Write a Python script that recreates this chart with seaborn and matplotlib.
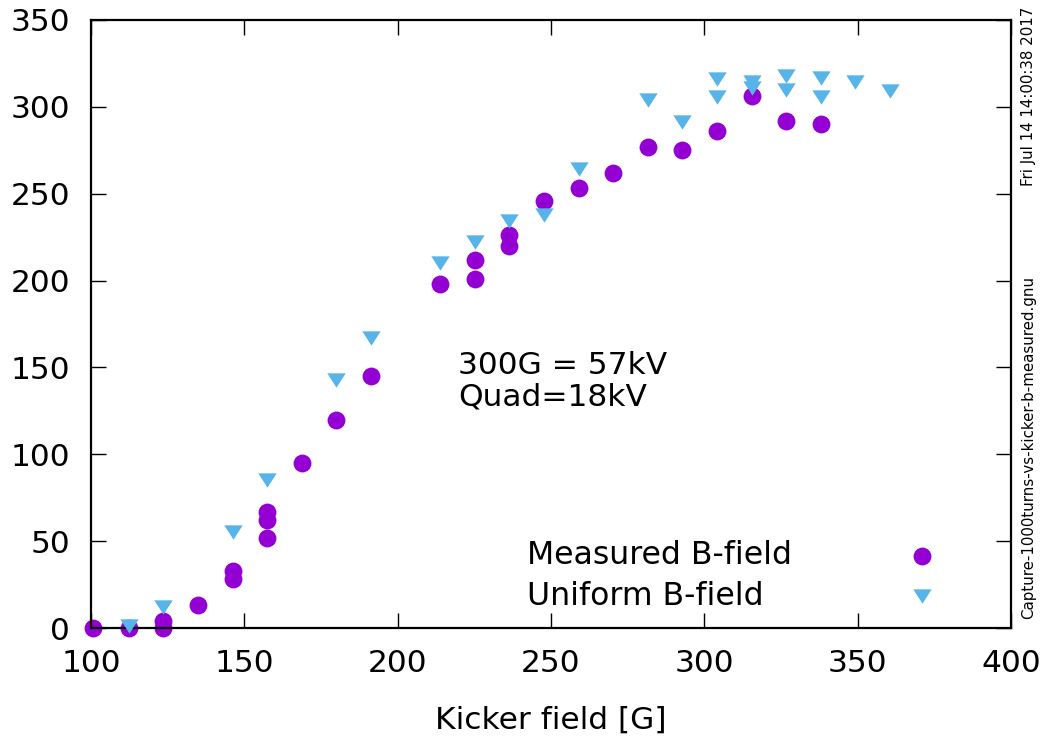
import pandas as pd
import matplotlib
matplotlib.use('Agg')
import matplotlib.pyplot as plt
import seaborn as sns

# Measured B-field (circles)
meas_x = [100.7, 112.4, 123.6, 123.6, 134.8, 146.2, 146.2, 157.5, 157.5, 157.5,
          168.8, 180, 191.2, 213.8, 225.1, 225.1, 236.4, 236.4, 247.6, 259,
          270.3, 281.5, 292.8, 304, 315.4, 326.6, 337.9]
meas_y = [0, 0, 0, 4, 13, 33, 28, 67, 62, 52,
          95, 120, 145, 198, 212, 201, 226, 220, 246, 253,
          262, 277, 275, 286, 306, 292, 290]

# Uniform B-field (triangles)
unif_x = [112.4, 123.6, 146.2, 157.5, 180, 191.2, 213.8, 225.1, 236.4, 247.6,
          259, 281.5, 292.8, 304, 304, 315.4, 315.4, 326.6, 326.6, 337.9,
          337.9, 349.1, 360.4]
unif_y = [1, 12, 55, 85, 143, 167, 210, 222, 234, 238,
          264, 304, 291, 316, 305.5, 314, 311, 317.5, 309.5, 316.4,
          305.5, 314.5, 309.3]

labels = ['Measured B-field', 'Uniform B-field']

df_meas = pd.DataFrame({'field': meas_x, 'turns': meas_y})
df_unif = pd.DataFrame({'field': unif_x, 'turns': unif_y})

sns.set_style("ticks")
plt.rcParams['font.family'] = ['DejaVu Sans']
plt.rcParams['text.color'] = 'black'
plt.rcParams['axes.labelcolor'] = 'black'
plt.rcParams['xtick.color'] = 'black'
plt.rcParams['ytick.color'] = 'black'

# gnuplot-like wide downward triangle
tri = [(-1, 0.78), (1, 0.78), (0, -0.78), (-1, 0.78)]

fig = plt.figure(figsize=(10.47, 7.38), dpi=100)
ax = fig.add_axes([0.0869, 0.149, 0.8787, 0.824])

sns.scatterplot(x='field', y='turns', data=df_meas, ax=ax, color='#9400d3',
                marker='o', s=165, linewidth=0, label=labels[0], zorder=2,
                clip_on=False)
sns.scatterplot(x='field', y='turns', data=df_unif, ax=ax, color='#56b4e9',
                marker=tri, s=175, linewidth=0, label=labels[1], zorder=3,
                clip_on=False)

ax.set_xlim(100, 400)
ax.set_ylim(0, 350)
ax.set_xticks(range(100, 401, 50))
ax.set_yticks(range(0, 351, 50))
ax.tick_params(direction='in', length=11, width=1.0, labelsize=22.5,
               top=True, right=True, pad=15)
for sp in ax.spines.values():
    sp.set_linewidth(1.6)
    sp.set_color('black')

ax.set_xlabel('Kicker field [G]', fontsize=22.5, labelpad=20)
ax.set_ylabel('')

ax.text(219.7, 141.9, '300G = 57kV\nQuad=18kV', fontsize=22.5, linespacing=1.1,
        va='center', ha='left')

# key: labels left-aligned, markers on the right (gnuplot style)
handles, _ = ax.get_legend_handles_labels()
ax.get_legend().remove()
leg1 = ax.legend(handles, labels, loc='center left', bbox_to_anchor=(0.474, 0.0855),
                 frameon=False, fontsize=22.7, handlelength=0, handletextpad=0,
                 labelspacing=0.3, borderpad=0, borderaxespad=0)
for h in leg1.legend_handles:
    h.set_visible(False)
ax.add_artist(leg1)
ax.legend(handles, [' ', ' '], loc='center', bbox_to_anchor=(0.909, 0.0855),
          frameon=False, fontsize=22.7, handlelength=1.0, handletextpad=0,
          labelspacing=0.3, borderpad=0, borderaxespad=0)

fig.text(0.982, 0.87, 'Fri Jul 14 14:00:38 2017', rotation=90, fontsize=10.8,
         ha='center', va='center')
fig.text(0.982, 0.394, 'Capture-1000turns-vs-kicker-b-measured.gnu', rotation=90,
         fontsize=10.8, ha='center', va='center')

plt.savefig('out.png', dpi=100)
